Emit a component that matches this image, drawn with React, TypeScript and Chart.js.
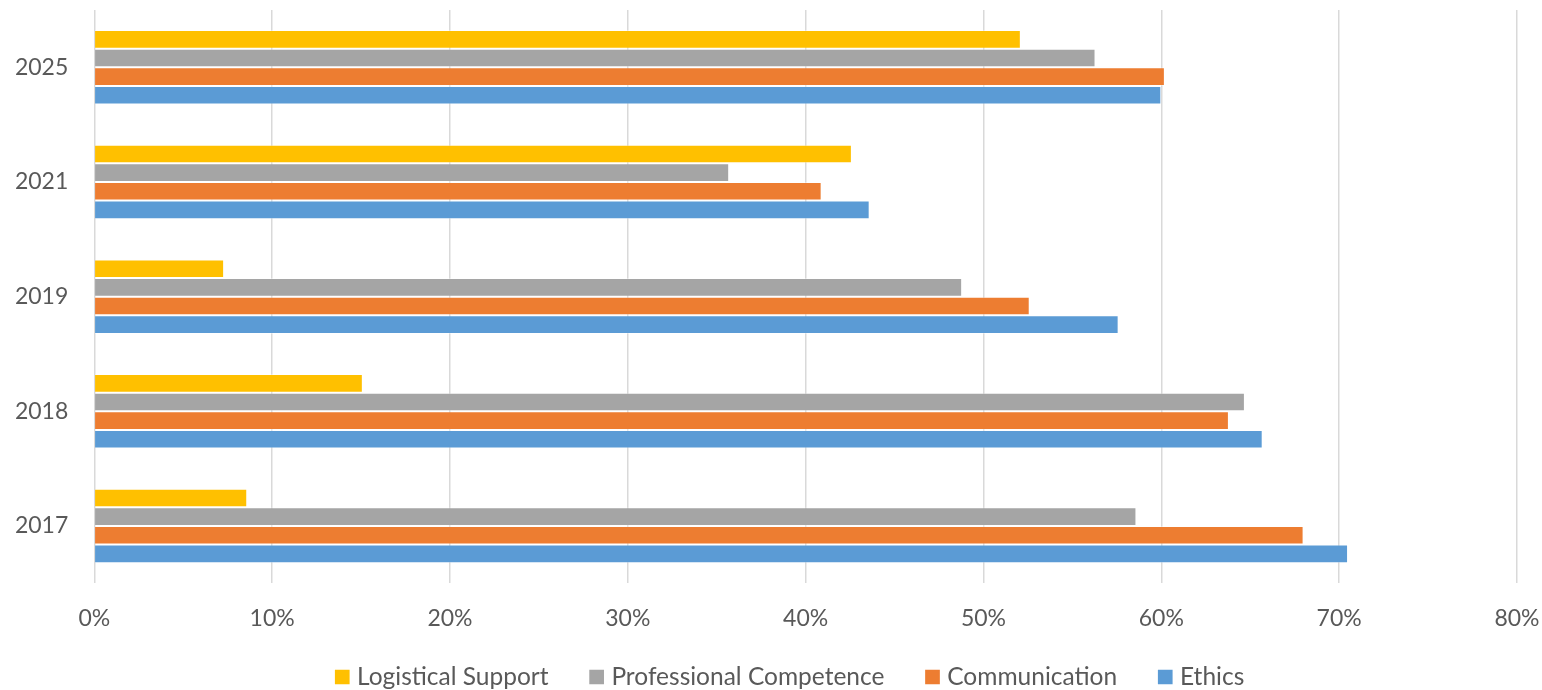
import React, { useEffect, useRef } from "react";
import { Chart, registerables } from "chart.js";

Chart.register(...registerables);

// Categories listed top to bottom, as shown
const categories = ["2025", "2021", "2019", "2018", "2017"];

const logisticalSupport = [52.1, 42.6, 7.3, 15.1, 8.6];
const professionalCompetence = [56.3, 35.7, 48.8, 64.7, 58.6];
const communication = [60.2, 40.9, 52.6, 63.8, 68.0];
const ethics = [60.0, 43.6, 57.6, 65.7, 70.5];

const seriesNames = ["Logistical Support", "Professional Competence", "Communication", "Ethics"];
const seriesColors = ["#FFC000", "#A5A5A5", "#ED7D31", "#5B9BD5"];

const xMin = 0;
const xMax = 80;
const xStep = 10;

const FONT = "Lato";
const TICK_SIZE = 23;
const LEGEND_SIZE = 24.5;
const TEXT_COLOR = "#595959";

export default function App() {
  const canvasRef = useRef<HTMLCanvasElement | null>(null);

  useEffect(() => {
    const canvas = canvasRef.current;
    if (!canvas) return;
    const seriesValues = [logisticalSupport, professionalCompetence, communication, ethics];

    const legendTweak = {
      id: "legendTweak",
      beforeInit(chart: any) {
        const legend = chart.legend;
        if (!legend) return;
        const origFit = legend.fit;
        legend.fit = function () {
          origFit.call(this);
          this.height = 50;
        };
      },
      afterLayout(chart: any) {
        const legend = chart.legend;
        if (!legend) return;
        const pad = legend.options.labels.padding;
        const itemH = Math.max(LEGEND_SIZE, legend.options.labels.boxHeight);
        legend.top = 677 - pad - itemH / 2;
        legend.bottom = chart.height;
        legend.height = legend.bottom - legend.top;
        legend.left += 21;
        legend.right += 21;
      },
    };

    const chart = new Chart(canvas, {
      type: "bar",
      data: {
        labels: categories,
        datasets: seriesNames.map((name, i) => ({
          label: name,
          data: seriesValues[i],
          backgroundColor: seriesColors[i],
          borderColor: "rgba(255,255,255,0.35)",
          borderWidth: 1,
          categoryPercentage: 0.65,
          barPercentage: 1.0,
        })),
      },
      options: {
        indexAxis: "y",
        animation: false,
        responsive: false,
        maintainAspectRatio: false,
        layout: { padding: { top: 10, right: 0, left: 0, bottom: 0 } },
        scales: {
          x: {
            min: xMin,
            max: xMax,
            ticks: {
              stepSize: xStep,
              color: TEXT_COLOR,
              font: { family: FONT, size: TICK_SIZE },
              padding: 21,
              maxRotation: 0,
              callback: (v: any) => `${v}%`,
            },
            grid: { color: "#D9D9D9", lineWidth: 1.5, drawTicks: false },
            border: { display: false },
            afterFit: (scale: any) => {
              scale.height = 56.7;
              scale.paddingRight = 25;
            },
          },
          y: {
            ticks: {
              color: TEXT_COLOR,
              font: { family: FONT, size: TICK_SIZE },
              padding: 26,
            },
            grid: { display: false, drawTicks: false },
            border: { display: false },
            afterFit: (scale: any) => {
              scale.width = 94.3;
              scale.paddingTop = 0;
              scale.paddingBottom = 0;
            },
          },
        },
        plugins: {
          legend: {
            position: "bottom",
            labels: {
              color: TEXT_COLOR,
              font: { family: FONT, size: LEGEND_SIZE },
              usePointStyle: true,
              pointStyle: "rect",
              boxWidth: 5,
              boxHeight: 14.7,
              padding: 45.6,
              generateLabels: (c: any) =>
                c.data.datasets.map((ds: any, i: number) => ({
                  text: ds.label,
                  fillStyle: ds.backgroundColor,
                  strokeStyle: ds.backgroundColor,
                  lineWidth: 0,
                  fontColor: TEXT_COLOR,
                  hidden: !c.isDatasetVisible(i),
                  datasetIndex: i,
                  pointStyle: "rect",
                })),
            },
          },
          tooltip: { enabled: false },
        },
      },
      plugins: [legendTweak],
    } as any);

    return () => {
      chart.destroy();
    };
  }, []);

  return (
    <div style={{ position: "absolute", left: 0, top: 0, width: 1542, height: 690, background: "#ffffff" }}>
      <canvas ref={canvasRef} width={1542} height={690} style={{ display: "block", width: 1542, height: 690 }} />
    </div>
  );
}
